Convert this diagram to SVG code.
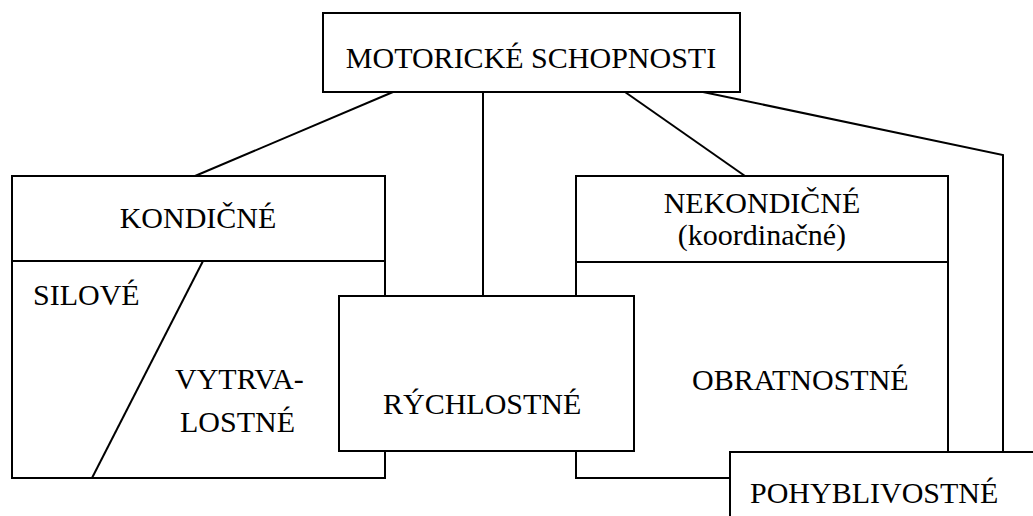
<svg xmlns="http://www.w3.org/2000/svg" width="1033" height="516" viewBox="0 0 1033 516">
<style>
.b{fill:#fff;stroke:#000;stroke-width:2}
.l{fill:none;stroke:#000;stroke-width:2}
text{font-family:"Liberation Serif","Times New Roman",serif;font-size:30px;fill:#000}
.m{text-anchor:middle}
</style>
<rect width="1033" height="516" fill="#fff"/>
<g id="connectors">
<line class="l" x1="393" y1="92" x2="195" y2="176"/>
<line class="l" x1="483" y1="92" x2="483" y2="296"/>
<line class="l" x1="625" y1="92" x2="745" y2="176"/>
<polyline class="l" points="703,92 1003,155 1003,452"/>
</g>
<g id="motoricke">
<rect class="b" x="323" y="13" width="417" height="79"/>
<text x="531" y="68" class="m">MOTORICKÉ SCHOPNOSTI</text>
</g>
<g id="kondicne">
<rect class="b" x="12" y="176" width="373" height="302"/>
<line class="l" x1="12" y1="261" x2="385" y2="261"/>
<line class="l" x1="203" y1="261" x2="92" y2="478"/>
<text x="198" y="228" class="m">KONDIČNÉ</text>
<text x="33" y="305">SILOVÉ</text>
<text x="175" y="389">VYTRVA-</text>
<text x="180" y="432">LOSTNÉ</text>
</g>
<g id="nekondicne">
<rect class="b" x="576" y="176" width="372" height="302"/>
<line class="l" x1="576" y1="262" x2="948" y2="262"/>
<text x="762" y="213" class="m">NEKONDIČNÉ</text>
<text x="762" y="245" class="m">(koordinačné)</text>
<text x="692" y="390">OBRATNOSTNÉ</text>
</g>
<g id="rychlostne">
<rect class="b" x="339" y="296" width="295" height="155"/>
<text x="383" y="414">RÝCHLOSTNÉ</text>
</g>
<g id="pohyblivostne">
<rect class="b" x="730" y="452" width="320" height="80"/>
<text x="750" y="503">POHYBLIVOSTNÉ</text>
</g>
</svg>
